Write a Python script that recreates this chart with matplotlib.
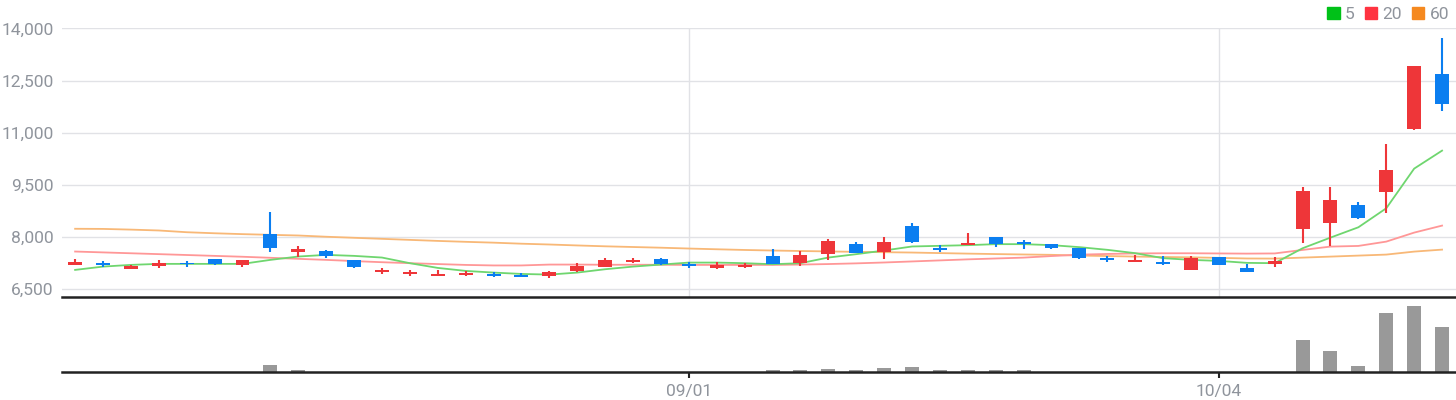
import numpy as np
import matplotlib
matplotlib.use('Agg')
import matplotlib.pyplot as plt
from matplotlib.patches import Patch
from matplotlib.ticker import FuncFormatter

plt.rcParams['font.family'] = ['Roboto', 'DejaVu Sans']

# Daily candles (price)
opens = [7200, 7260, 7085, 7180, 7265, 7375, 7200, 8075, 7560, 7605,
         7335, 7010, 6950, 6892, 6920, 6940, 6912, 6885, 7028, 7152,
         7288, 7374, 7238, 7114, 7152, 7460, 7267, 7527, 7807, 7576,
         8326, 7690, 7778, 8008, 7864, 7807, 7691, 7403, 7288, 7288,
         7057, 7432, 7114, 7238, 8234, 8416, 8924, 9297, 11107, 12688]
highs = [7370, 7320, 7200, 7345, 7310, 7375, 7345, 8710, 7750, 7640,
         7335, 7115, 7057, 7057, 7020, 7008, 6960, 7037, 7260, 7403,
         7403, 7403, 7288, 7288, 7259, 7662, 7605, 7951, 7864, 8008,
         8413, 7778, 8124, 8008, 7922, 7807, 7691, 7460, 7489, 7460,
         7460, 7432, 7230, 7432, 9441, 9441, 9010, 10676, 12918, 13722]
lows = [7200, 7150, 7085, 7115, 7150, 7200, 7140, 7560, 7440, 7410,
        7115, 6950, 6885, 6892, 6885, 6855, 6865, 6835, 7000, 7152,
        7260, 7200, 7114, 7085, 7123, 7238, 7180, 7345, 7556, 7374,
        7835, 7576, 7778, 7720, 7662, 7662, 7374, 7288, 7288, 7201,
        7057, 7201, 7000, 7143, 7832, 7746, 8521, 8694, 11080, 11625]
closes = [7290, 7210, 7172, 7260, 7215, 7240, 7345, 7700, 7660, 7470,
          7150, 7065, 7008, 6950, 6980, 6892, 6865, 7000, 7172, 7345,
          7345, 7238, 7180, 7200, 7200, 7238, 7489, 7893, 7556, 7864,
          7864, 7640, 7836, 7807, 7807, 7691, 7403, 7345, 7345, 7230,
          7403, 7201, 7000, 7317, 9326, 9067, 8560, 9929, 12918, 11826]

# Moving averages
ma5 = [7057, 7152, 7201, 7230, 7230, 7230, 7230, 7345, 7441, 7489,
       7460, 7412, 7250, 7114, 7028, 6980, 6941, 6922, 6980, 7076,
       7152, 7210, 7267, 7267, 7250, 7220, 7250, 7412, 7509, 7614,
       7730, 7749, 7768, 7797, 7797, 7768, 7711, 7634, 7538, 7394,
       7345, 7316, 7259, 7250, 7679, 7985, 8282, 8828, 9968, 10485]
ma20 = [7585, 7560, 7535, 7510, 7485, 7460, 7435, 7405, 7375, 7345,
        7310, 7278, 7250, 7225, 7200, 7185, 7185, 7210, 7210, 7205,
        7205, 7205, 7200, 7200, 7200, 7200, 7210, 7225, 7245, 7270,
        7300, 7330, 7360, 7385, 7410, 7455, 7495, 7515, 7530, 7535,
        7535, 7530, 7525, 7530, 7631, 7727, 7746, 7870, 8129, 8330]
ma60 = [8239, 8235, 8215, 8190, 8140, 8110, 8085, 8065, 8046, 8010,
        7980, 7950, 7920, 7890, 7864, 7840, 7810, 7787, 7760, 7735,
        7715, 7695, 7671, 7650, 7630, 7614, 7600, 7588, 7576, 7566,
        7556, 7540, 7525, 7512, 7500, 7490, 7470, 7455, 7440, 7428,
        7418, 7403, 7385, 7382, 7410, 7439, 7468, 7497, 7583, 7640]

# Volume (relative units)
volume = [0, 0, 0, 0, 0, 0, 0, 67, 17, 0,
          0, 0, 0, 0, 0, 0, 0, 0, 0, 0,
          0, 0, 0, 0, 0, 17, 17, 27, 17, 37,
          47, 17, 17, 17, 17, 0, 0, 0, 0, 0,
          0, 0, 0, 0, 317, 207, 57, 590, 660, 450]

tick_idx = [22, 41]
tick_labels = ['09/01', '10/04']

UP = '#ee3639'
DOWN = '#0b7ef0'
GRID = '#e1e2e6'
TXT = '#8f949c'

x = np.arange(len(closes))
o = np.array(opens)
c = np.array(closes)
col = [UP if cc >= oo else DOWN for oo, cc in zip(o, c)]

fig = plt.figure(figsize=(14.56, 4.0), dpi=100)
axv = fig.add_axes([62 / 1456, 28.5 / 400, 1 - 62 / 1456, 74.5 / 400])
ax = fig.add_axes([62 / 1456, 103 / 400, 1 - 62 / 1456, 269 / 400])
axv.patch.set_visible(False)
ax.patch.set_visible(False)

# Price panel
ax.vlines(x, lows, highs, colors=col, linewidth=1.5, zorder=3)
ax.bar(x, np.abs(c - o), bottom=np.minimum(o, c), width=0.5, color=col, zorder=3)
ax.plot(x, ma60, color='#f8b877', lw=1.3, zorder=2)
ax.plot(x, ma20, color='#ff9797', lw=1.3, zorder=2)
ax.plot(x, ma5, color='#6fd66f', lw=1.3, zorder=2)

ax.set_xlim(-0.47, 49.5)
ax.set_ylim(6278, 14010)
ax.set_yticks(np.arange(6500, 14001, 1500))
ax.yaxis.set_major_formatter(FuncFormatter(lambda v, p: f'{int(v):,}'))
ax.set_xticks(tick_idx)
ax.grid(True, color=GRID, lw=1.0)
ax.set_axisbelow(True)
ax.tick_params(axis='x', length=0, labelbottom=False)
ax.tick_params(axis='y', length=0, labelsize=12.5, labelcolor=TXT, pad=6)
for s in ['top', 'right', 'left']:
    ax.spines[s].set_visible(False)
ax.spines['bottom'].set_color('#222222')
ax.spines['bottom'].set_linewidth(1.8)

# Volume panel
axv.bar(x, volume, width=0.5, color='#999999')
axv.set_xlim(-0.47, 49.5)
axv.set_ylim(0, 747)
axv.set_yticks([])
axv.set_xticks(tick_idx)
axv.set_xticklabels(tick_labels)
axv.tick_params(axis='x', length=4, width=1.5, color='#222222',
                labelsize=12.5, labelcolor=TXT, pad=5)
for s in ['top', 'right', 'left']:
    axv.spines[s].set_visible(False)
axv.spines['bottom'].set_color('#222222')
axv.spines['bottom'].set_linewidth(1.8)

# Legend
handles = [Patch(color='#00c118', label='5'),
           Patch(color='#ff3340', label='20'),
           Patch(color='#f5891f', label='60')]
fig.legend(handles=handles, loc='upper right', bbox_to_anchor=(1.0, 1.0), ncol=3,
           frameon=False, handlelength=0.7, handleheight=0.7, handletextpad=0.3,
           columnspacing=0.6, fontsize=12.5, labelcolor=TXT, borderaxespad=0.0)

fig.savefig('out.png', dpi=100)
